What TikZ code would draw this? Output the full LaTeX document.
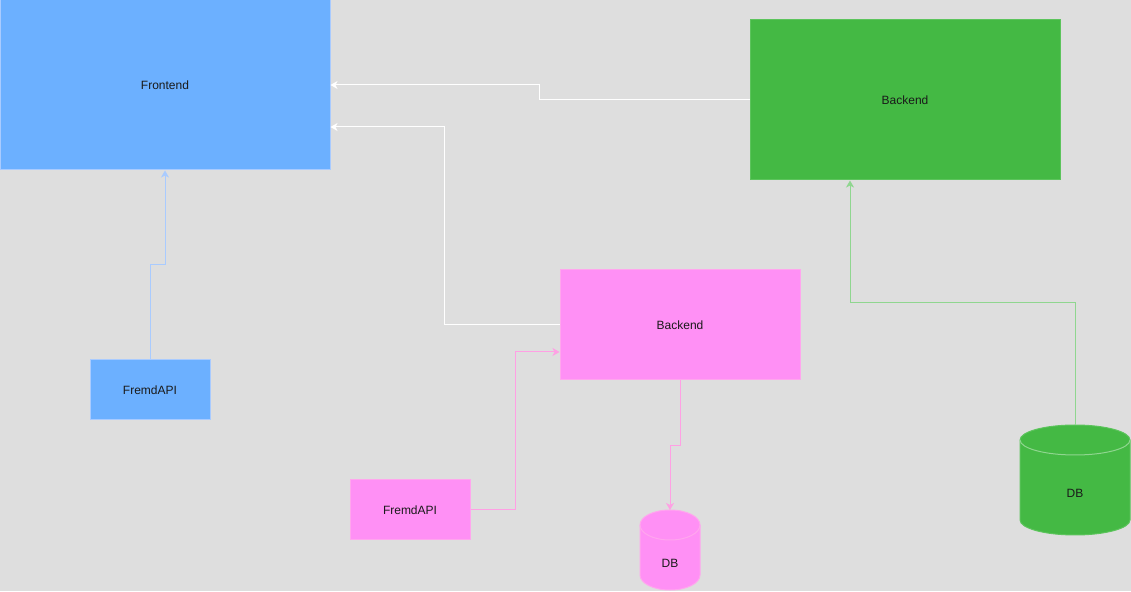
\documentclass[tikz,border=0pt]{standalone}
\usepackage{fontspec}
\setmainfont{Liberation Sans}
\usetikzlibrary{arrows.meta}
\definecolor{bg}{HTML}{DEDEDE}
\definecolor{bluefill}{HTML}{6CB0FF}
\definecolor{bluedraw}{HTML}{A9CBFF}
\definecolor{greenfill}{HTML}{44B944}
\definecolor{greendraw}{HTML}{5CC45C}
\definecolor{greenline}{HTML}{8FD68F}
\definecolor{pinkfill}{HTML}{FF90F5}
\definecolor{pinkdraw}{HTML}{FFA6EE}
\definecolor{pinkline}{HTML}{FFA0E4}
\definecolor{txt}{HTML}{1A1A1A}
\tikzset{
  box/.style={rectangle, inner sep=0pt, line width=1pt, text=txt, font=\fontsize{12}{14}\selectfont},
  bluebox/.style={box, fill=bluefill, draw=bluedraw},
  greenbox/.style={box, fill=greenfill, draw=greendraw},
  pinkbox/.style={box, fill=pinkfill, draw=pinkdraw},
  lbl/.style={inner sep=0pt, text=txt, font=\fontsize{12}{14}\selectfont},
  conn/.style={line width=1pt, -{Stealth[length=7pt,width=8pt,inset=2pt]}},
}
\begin{document}
\begin{tikzpicture}[x=1pt,y=1pt]
\useasboundingbox (0,0) rectangle (1131,591);
\fill[bg] (0,0) rectangle (1131,591);

% boxes
\node[bluebox, minimum width=330pt, minimum height=170pt] (fe) at (165,506) {Frontend};
\node[greenbox, minimum width=310pt, minimum height=160pt] (gb) at (905,491) {Backend};
\node[pinkbox, minimum width=240pt, minimum height=110pt] (pb) at (680,266) {Backend};
\node[bluebox, minimum width=120pt, minimum height=60pt] (fa1) at (150,201) {FremdAPI};
\node[pinkbox, minimum width=120pt, minimum height=60pt] (fa2) at (410,81) {FremdAPI};

% pink DB cylinder
\filldraw[fill=pinkfill, draw=pinkdraw, line width=1pt]
  (640,66) -- (640,16) arc[start angle=180, end angle=360, x radius=30, y radius=15]
  -- (700,66) arc[start angle=0, end angle=180, x radius=30, y radius=15] -- cycle;
\draw[pinkdraw, line width=1pt] (640,66) arc[start angle=180, end angle=360, x radius=30, y radius=15];
\coordinate (dbptop) at (670,81);
\node[lbl] (dbp) at (670,28) {DB};

% green DB cylinder
\filldraw[fill=greenfill, draw=greendraw, line width=1pt]
  (1020,151) -- (1020,71) arc[start angle=180, end angle=360, x radius=55, y radius=15]
  -- (1130,151) arc[start angle=0, end angle=180, x radius=55, y radius=15] -- cycle;
\draw[greenline, line width=1pt] (1020,151) arc[start angle=180, end angle=360, x radius=55, y radius=15];
\coordinate (dbgtop) at (1075,166);
\node[lbl] (dbg) at (1075,98) {DB};

% connectors
\draw[conn, white] (gb.west) -- ++(-210,0) |- (fe.east);
\draw[conn, white] (pb.west) -- ++(-115,0) |- ([yshift=-42pt]fe.east);
\draw[conn, bluedraw] (fa1.north) -- ++(0,95) -| (fe.south);
\draw[conn, pinkline] (fa2.east) -- ++(45,0) |- ([yshift=-27pt]pb.west);
\draw[conn, pinkline] (pb.south) -- ++(0,-65) -| (dbptop);
\draw[conn, greenline] (dbgtop) -- ++(0,122) -| ([xshift=-55pt]gb.south);
\end{tikzpicture}
\end{document}
